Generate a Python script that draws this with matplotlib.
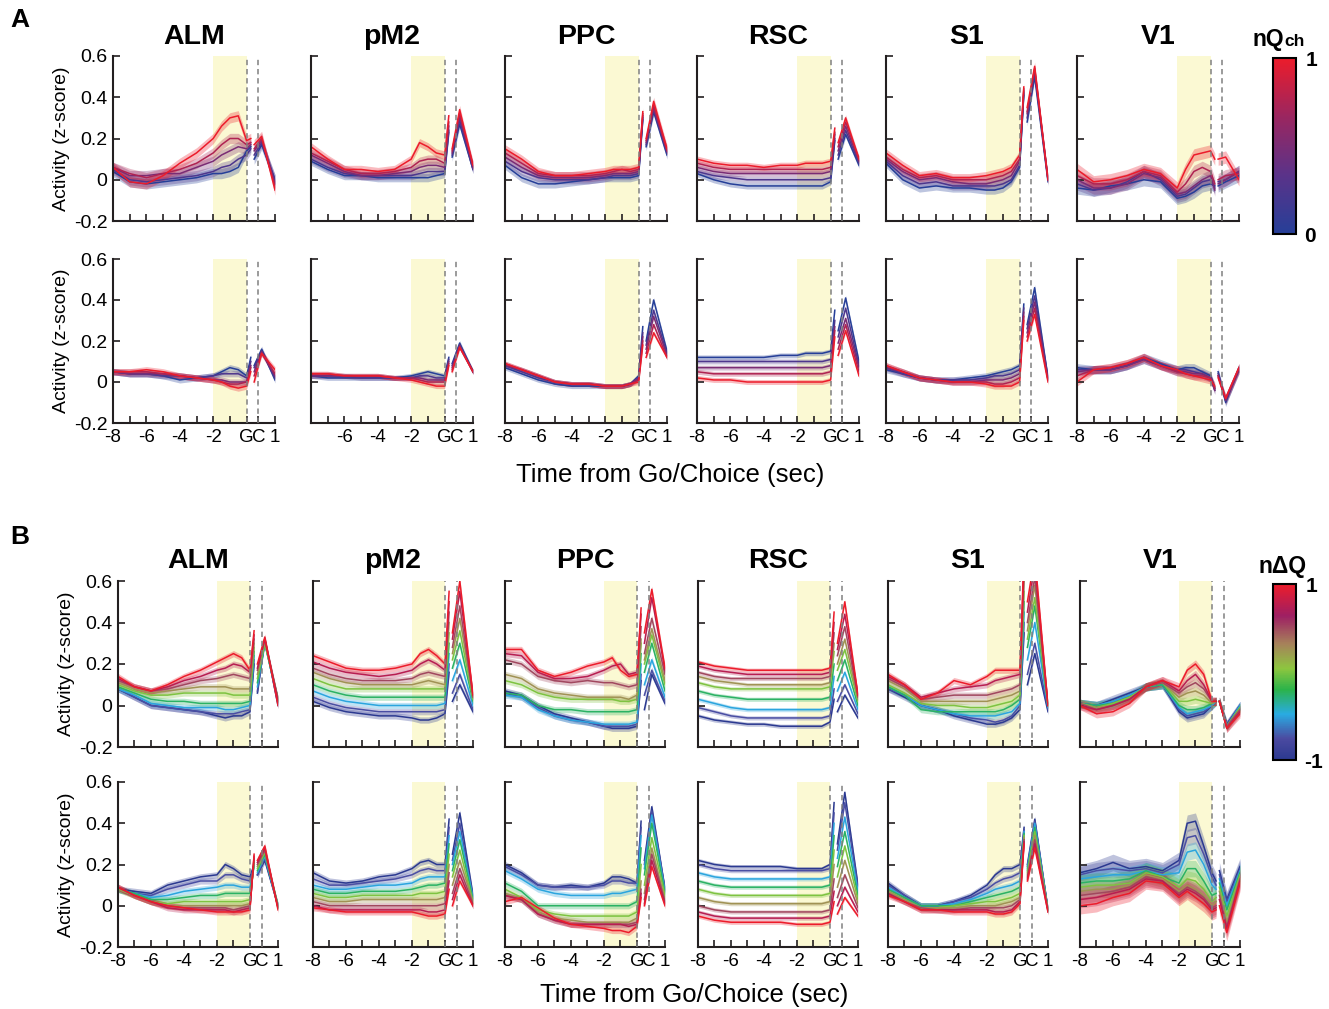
import numpy as np
import matplotlib
matplotlib.use("Agg")
import matplotlib.pyplot as plt
from matplotlib.colors import LinearSegmentedColormap, Normalize
from matplotlib.cm import ScalarMappable

plt.rcParams["font.family"] = ["Liberation Sans", "DejaVu Sans"]

areas = ["ALM", "pM2", "PPC", "RSC", "S1", "V1"]

# pre-Go samples run a little past Go, post-choice samples start just before Choice
choice_t = 0.7
t_pre = [-8, -7, -6, -5, -4, -3, -2, -1.5, -1, -0.5, 0, 0.25]
t_post = [0.45, 0.9, 1.7]
x_ticks = [-8, -7, -6, -5, -4, -3, -2, -1, 0, 0.7, 1.7]
x_ticklabels = ["-8", "", "-6", "", "-4", "", "-2", "", "G", "C", "1"]
y_ticks = [-0.2, 0, 0.2, 0.4, 0.6]
y_ticklabels = ["-0.2", "0", "0.2", "0.4", "0.6"]

# each row: 12 pre-Go values then 3 post-choice values; rows go low -> high bin
# ---- nQch, first row ----
alm_a1 = [
    [0.04, -0.01, -0.02, -0.01, 0.00, 0.01, 0.03, 0.03, 0.04, 0.06, 0.14, 0.16, 0.10, 0.17, 0.00],
    [0.05, 0.00, -0.01, 0.00, 0.01, 0.02, 0.04, 0.06, 0.07, 0.10, 0.12, 0.15, 0.12, 0.18, 0.00],
    [0.06, 0.02, 0.02, 0.03, 0.03, 0.06, 0.09, 0.12, 0.14, 0.16, 0.15, 0.17, 0.14, 0.19, -0.02],
    [0.06, 0.03, 0.01, 0.03, 0.05, 0.08, 0.13, 0.17, 0.20, 0.20, 0.17, 0.18, 0.15, 0.20, -0.03],
    [0.06, -0.01, -0.02, 0.02, 0.08, 0.13, 0.20, 0.26, 0.30, 0.31, 0.19, 0.20, 0.17, 0.21, -0.05],
]
pm2_a1 = [
    [0.09, 0.05, 0.02, 0.02, 0.01, 0.01, 0.01, 0.01, 0.01, 0.02, 0.03, 0.23, 0.11, 0.27, 0.05],
    [0.10, 0.06, 0.03, 0.02, 0.02, 0.02, 0.02, 0.03, 0.04, 0.04, 0.04, 0.24, 0.12, 0.29, 0.05],
    [0.12, 0.08, 0.04, 0.02, 0.02, 0.03, 0.04, 0.06, 0.07, 0.07, 0.06, 0.26, 0.13, 0.31, 0.06],
    [0.13, 0.09, 0.05, 0.03, 0.03, 0.04, 0.06, 0.09, 0.10, 0.10, 0.08, 0.28, 0.14, 0.32, 0.07],
    [0.16, 0.10, 0.05, 0.05, 0.04, 0.05, 0.10, 0.18, 0.16, 0.13, 0.12, 0.31, 0.15, 0.34, 0.07],
]
ppc_a1 = [
    [0.07, 0.01, -0.02, -0.02, -0.01, 0.00, 0.01, 0.01, 0.01, 0.01, 0.02, 0.29, 0.16, 0.33, 0.12],
    [0.09, 0.04, 0.01, 0.00, 0.00, 0.00, 0.01, 0.02, 0.02, 0.02, 0.03, 0.30, 0.17, 0.34, 0.13],
    [0.11, 0.06, 0.02, 0.01, 0.01, 0.01, 0.02, 0.03, 0.03, 0.03, 0.04, 0.31, 0.18, 0.35, 0.14],
    [0.13, 0.08, 0.03, 0.02, 0.02, 0.02, 0.03, 0.04, 0.05, 0.04, 0.05, 0.32, 0.19, 0.36, 0.14],
    [0.15, 0.10, 0.04, 0.02, 0.02, 0.03, 0.04, 0.05, 0.05, 0.05, 0.06, 0.33, 0.20, 0.38, 0.15],
]
rsc_a1 = [
    [0.03, 0.00, -0.02, -0.03, -0.03, -0.03, -0.03, -0.03, -0.03, -0.03, -0.01, 0.19, 0.10, 0.22, 0.07],
    [0.04, 0.02, 0.01, 0.00, 0.00, 0.00, 0.00, 0.00, 0.00, 0.00, 0.01, 0.20, 0.12, 0.24, 0.08],
    [0.06, 0.04, 0.03, 0.03, 0.03, 0.03, 0.03, 0.03, 0.03, 0.03, 0.04, 0.22, 0.14, 0.26, 0.09],
    [0.08, 0.06, 0.05, 0.05, 0.05, 0.05, 0.05, 0.05, 0.05, 0.05, 0.06, 0.23, 0.16, 0.28, 0.10],
    [0.10, 0.08, 0.07, 0.07, 0.06, 0.07, 0.07, 0.08, 0.08, 0.08, 0.09, 0.25, 0.18, 0.30, 0.10],
]
s1_a1 = [
    [0.08, 0.00, -0.04, -0.03, -0.04, -0.04, -0.05, -0.05, -0.04, -0.01, 0.06, 0.41, 0.28, 0.50, -0.01],
    [0.09, 0.02, -0.02, -0.01, -0.03, -0.03, -0.03, -0.03, -0.02, 0.00, 0.07, 0.42, 0.30, 0.52, 0.00],
    [0.10, 0.04, 0.00, 0.01, -0.01, -0.02, -0.02, -0.01, 0.00, 0.02, 0.09, 0.43, 0.32, 0.53, 0.00],
    [0.11, 0.05, 0.01, 0.02, 0.00, 0.00, 0.00, 0.01, 0.02, 0.04, 0.10, 0.44, 0.33, 0.54, 0.00],
    [0.13, 0.07, 0.02, 0.03, 0.01, 0.01, 0.02, 0.03, 0.04, 0.06, 0.12, 0.45, 0.35, 0.55, 0.00],
]
v1_a1 = [
    [-0.04, -0.05, -0.03, -0.02, 0.00, -0.01, -0.09, -0.08, -0.06, -0.03, -0.02, -0.03, -0.03, -0.01, 0.02],
    [-0.02, -0.05, -0.04, -0.01, 0.04, 0.00, -0.08, -0.07, -0.04, -0.01, 0.00, -0.04, -0.01, 0.00, 0.04],
    [0.00, -0.04, -0.04, -0.02, 0.03, 0.01, -0.07, -0.06, -0.03, 0.00, 0.02, -0.05, -0.02, 0.00, 0.04],
    [0.02, -0.02, -0.02, 0.00, 0.04, 0.02, -0.06, -0.02, 0.04, 0.06, 0.04, -0.02, 0.00, 0.02, 0.03],
    [0.05, -0.01, 0.00, 0.02, 0.05, 0.03, -0.04, 0.05, 0.12, 0.13, 0.14, 0.10, 0.10, 0.11, 0.00],
]

# ---- nQch, second row ----
alm_a2 = [
    [0.05, 0.04, 0.04, 0.03, 0.01, 0.02, 0.03, 0.05, 0.07, 0.06, 0.03, 0.12, 0.08, 0.16, 0.01],
    [0.05, 0.04, 0.04, 0.03, 0.03, 0.02, 0.03, 0.04, 0.04, 0.04, 0.02, 0.10, 0.07, 0.15, 0.02],
    [0.05, 0.04, 0.04, 0.04, 0.03, 0.02, 0.01, 0.01, 0.00, 0.00, 0.00, 0.08, 0.05, 0.15, 0.03],
    [0.05, 0.05, 0.05, 0.04, 0.03, 0.02, 0.01, 0.00, -0.01, -0.01, 0.00, 0.07, 0.03, 0.14, 0.04],
    [0.05, 0.05, 0.06, 0.05, 0.03, 0.02, 0.01, 0.00, -0.02, -0.03, -0.02, 0.05, 0.00, 0.14, 0.06],
]
pm2_a2 = [
    [0.03, 0.02, 0.02, 0.02, 0.02, 0.02, 0.03, 0.04, 0.05, 0.04, 0.03, 0.12, 0.09, 0.19, 0.05],
    [0.03, 0.03, 0.03, 0.02, 0.02, 0.02, 0.02, 0.03, 0.03, 0.02, 0.02, 0.11, 0.08, 0.18, 0.05],
    [0.03, 0.03, 0.03, 0.03, 0.03, 0.02, 0.02, 0.02, 0.01, 0.01, 0.01, 0.10, 0.07, 0.18, 0.05],
    [0.04, 0.04, 0.03, 0.03, 0.03, 0.02, 0.02, 0.01, 0.00, 0.00, 0.00, 0.09, 0.06, 0.17, 0.05],
    [0.04, 0.04, 0.03, 0.03, 0.03, 0.02, 0.01, 0.00, -0.01, -0.02, -0.02, 0.08, 0.05, 0.17, 0.05],
]
ppc_a2 = [
    [0.07, 0.04, 0.01, -0.01, -0.02, -0.02, -0.02, -0.02, -0.02, -0.01, 0.03, 0.27, 0.20, 0.40, 0.15],
    [0.08, 0.05, 0.02, 0.00, -0.01, -0.01, -0.02, -0.02, -0.02, -0.01, 0.02, 0.24, 0.18, 0.35, 0.14],
    [0.08, 0.06, 0.03, 0.00, -0.01, -0.01, -0.02, -0.02, -0.02, -0.01, 0.02, 0.22, 0.16, 0.32, 0.13],
    [0.09, 0.06, 0.03, 0.00, -0.01, -0.01, -0.02, -0.02, -0.02, -0.01, 0.01, 0.20, 0.14, 0.28, 0.12],
    [0.09, 0.06, 0.03, 0.00, -0.01, -0.01, -0.02, -0.02, -0.02, -0.01, 0.00, 0.18, 0.12, 0.24, 0.12],
]
rsc_a2 = [
    [0.12, 0.12, 0.12, 0.12, 0.12, 0.13, 0.13, 0.14, 0.14, 0.14, 0.15, 0.35, 0.25, 0.41, 0.10],
    [0.10, 0.10, 0.10, 0.10, 0.10, 0.10, 0.10, 0.10, 0.10, 0.10, 0.11, 0.30, 0.22, 0.36, 0.08],
    [0.07, 0.07, 0.07, 0.07, 0.07, 0.07, 0.07, 0.07, 0.07, 0.07, 0.08, 0.27, 0.19, 0.31, 0.07],
    [0.05, 0.04, 0.04, 0.04, 0.04, 0.04, 0.04, 0.04, 0.04, 0.04, 0.05, 0.25, 0.16, 0.28, 0.05],
    [0.02, 0.01, 0.01, 0.00, 0.00, 0.00, 0.00, 0.00, 0.00, 0.00, 0.01, 0.22, 0.13, 0.25, 0.03],
]
s1_a2 = [
    [0.06, 0.04, 0.02, 0.01, 0.01, 0.02, 0.03, 0.04, 0.05, 0.06, 0.08, 0.38, 0.28, 0.46, 0.02],
    [0.07, 0.04, 0.02, 0.01, 0.01, 0.01, 0.02, 0.03, 0.03, 0.04, 0.06, 0.36, 0.26, 0.42, 0.02],
    [0.07, 0.05, 0.02, 0.01, 0.00, 0.00, 0.01, 0.01, 0.01, 0.02, 0.04, 0.34, 0.24, 0.39, 0.01],
    [0.08, 0.05, 0.02, 0.01, 0.00, 0.00, 0.00, -0.01, -0.01, 0.00, 0.02, 0.32, 0.22, 0.36, 0.01],
    [0.08, 0.05, 0.02, 0.01, 0.00, 0.00, -0.01, -0.02, -0.02, -0.02, 0.00, 0.30, 0.20, 0.33, 0.00],
]
v1_a2 = [
    [0.07, 0.06, 0.06, 0.08, 0.12, 0.09, 0.06, 0.07, 0.07, 0.05, 0.03, -0.03, 0.05, -0.10, 0.07],
    [0.06, 0.06, 0.06, 0.08, 0.11, 0.08, 0.06, 0.06, 0.05, 0.04, 0.02, -0.04, 0.04, -0.09, 0.06],
    [0.05, 0.06, 0.06, 0.08, 0.11, 0.08, 0.05, 0.05, 0.04, 0.04, 0.02, -0.04, 0.03, -0.09, 0.06],
    [0.03, 0.06, 0.07, 0.09, 0.12, 0.08, 0.05, 0.04, 0.03, 0.03, 0.02, -0.03, 0.03, -0.08, 0.07],
    [0.00, 0.06, 0.07, 0.09, 0.12, 0.08, 0.06, 0.04, 0.03, 0.02, 0.01, -0.02, 0.02, -0.08, 0.07],
]

# ---- nDeltaQ, first row ----
alm_b1 = [
    [0.08, 0.04, 0.00, -0.01, -0.02, -0.03, -0.05, -0.06, -0.05, -0.05, -0.03, 0.20, 0.06, 0.32, 0.00],
    [0.08, 0.04, 0.00, -0.01, -0.02, -0.03, -0.04, -0.04, -0.04, -0.03, -0.02, 0.22, 0.07, 0.31, 0.01],
    [0.08, 0.05, 0.01, 0.00, -0.01, -0.01, -0.01, -0.02, -0.02, -0.01, 0.00, 0.24, 0.09, 0.30, 0.02],
    [0.09, 0.06, 0.03, 0.02, 0.02, 0.01, 0.01, 0.01, 0.01, 0.01, 0.02, 0.26, 0.11, 0.30, 0.03],
    [0.10, 0.07, 0.05, 0.05, 0.06, 0.06, 0.06, 0.06, 0.05, 0.05, 0.05, 0.28, 0.13, 0.30, 0.03],
    [0.11, 0.08, 0.06, 0.07, 0.08, 0.09, 0.09, 0.09, 0.08, 0.08, 0.08, 0.30, 0.15, 0.31, 0.03],
    [0.12, 0.09, 0.07, 0.08, 0.10, 0.12, 0.13, 0.14, 0.15, 0.14, 0.13, 0.32, 0.17, 0.32, 0.03],
    [0.13, 0.09, 0.07, 0.09, 0.12, 0.14, 0.17, 0.18, 0.20, 0.19, 0.16, 0.34, 0.18, 0.32, 0.02],
    [0.14, 0.09, 0.07, 0.10, 0.14, 0.17, 0.21, 0.23, 0.25, 0.23, 0.17, 0.36, 0.20, 0.33, 0.00],
]
pm2_b1 = [
    [0.02, -0.01, -0.03, -0.04, -0.05, -0.05, -0.06, -0.07, -0.07, -0.06, -0.04, 0.16, 0.02, 0.10, -0.03],
    [0.04, 0.01, -0.01, -0.02, -0.03, -0.03, -0.03, -0.03, -0.03, -0.03, -0.02, 0.20, 0.06, 0.15, -0.02],
    [0.07, 0.04, 0.02, 0.01, 0.00, 0.00, 0.00, 0.00, 0.00, 0.00, 0.01, 0.25, 0.12, 0.22, 0.00],
    [0.10, 0.07, 0.05, 0.04, 0.04, 0.04, 0.04, 0.04, 0.04, 0.04, 0.04, 0.30, 0.18, 0.30, 0.02],
    [0.13, 0.10, 0.08, 0.08, 0.08, 0.08, 0.08, 0.08, 0.08, 0.08, 0.08, 0.35, 0.22, 0.36, 0.03],
    [0.16, 0.13, 0.11, 0.10, 0.10, 0.10, 0.10, 0.11, 0.12, 0.11, 0.10, 0.40, 0.25, 0.42, 0.04],
    [0.18, 0.15, 0.13, 0.12, 0.12, 0.12, 0.13, 0.15, 0.16, 0.15, 0.14, 0.45, 0.28, 0.48, 0.04],
    [0.21, 0.18, 0.16, 0.15, 0.14, 0.15, 0.17, 0.20, 0.22, 0.20, 0.17, 0.50, 0.32, 0.55, 0.05],
    [0.24, 0.21, 0.18, 0.17, 0.17, 0.18, 0.20, 0.25, 0.27, 0.24, 0.20, 0.55, 0.35, 0.60, 0.05],
]
ppc_b1 = [
    [0.07, 0.05, 0.00, -0.04, -0.06, -0.08, -0.10, -0.11, -0.11, -0.11, -0.10, 0.12, -0.02, 0.15, 0.01],
    [0.06, 0.04, -0.01, -0.05, -0.07, -0.08, -0.10, -0.10, -0.10, -0.10, -0.09, 0.15, 0.05, 0.17, 0.02],
    [0.05, 0.04, -0.02, -0.05, -0.07, -0.08, -0.09, -0.09, -0.09, -0.09, -0.08, 0.20, 0.10, 0.22, 0.04],
    [0.06, 0.05, 0.00, -0.02, -0.02, -0.03, -0.03, -0.03, -0.03, -0.03, -0.02, 0.25, 0.16, 0.30, 0.07],
    [0.12, 0.10, 0.06, 0.04, 0.03, 0.03, 0.03, 0.03, 0.02, 0.02, 0.03, 0.30, 0.20, 0.34, 0.10],
    [0.15, 0.13, 0.08, 0.06, 0.05, 0.04, 0.04, 0.04, 0.04, 0.03, 0.05, 0.32, 0.22, 0.37, 0.12],
    [0.22, 0.20, 0.14, 0.12, 0.11, 0.12, 0.11, 0.11, 0.10, 0.09, 0.10, 0.38, 0.25, 0.42, 0.15],
    [0.25, 0.24, 0.16, 0.13, 0.13, 0.14, 0.17, 0.19, 0.20, 0.15, 0.16, 0.44, 0.30, 0.52, 0.17],
    [0.27, 0.27, 0.17, 0.14, 0.16, 0.19, 0.21, 0.23, 0.17, 0.14, 0.15, 0.47, 0.35, 0.56, 0.18],
]
rsc_b1 = [
    [-0.05, -0.07, -0.08, -0.09, -0.09, -0.10, -0.10, -0.10, -0.10, -0.10, -0.08, 0.03, -0.03, 0.05, -0.06],
    [-0.01, -0.03, -0.05, -0.06, -0.06, -0.06, -0.06, -0.06, -0.06, -0.06, -0.05, 0.08, 0.02, 0.10, -0.04],
    [0.03, 0.01, -0.01, -0.02, -0.02, -0.02, -0.02, -0.02, -0.02, -0.02, -0.01, 0.14, 0.07, 0.16, -0.02],
    [0.07, 0.05, 0.04, 0.03, 0.03, 0.03, 0.03, 0.03, 0.03, 0.03, 0.04, 0.20, 0.12, 0.22, 0.00],
    [0.11, 0.09, 0.08, 0.08, 0.08, 0.08, 0.08, 0.08, 0.08, 0.08, 0.09, 0.26, 0.17, 0.27, 0.02],
    [0.14, 0.12, 0.11, 0.10, 0.10, 0.10, 0.10, 0.10, 0.10, 0.10, 0.11, 0.30, 0.20, 0.32, 0.03],
    [0.16, 0.14, 0.13, 0.13, 0.13, 0.13, 0.13, 0.13, 0.13, 0.13, 0.14, 0.35, 0.24, 0.38, 0.04],
    [0.19, 0.17, 0.16, 0.15, 0.15, 0.15, 0.15, 0.15, 0.15, 0.15, 0.16, 0.40, 0.27, 0.44, 0.05],
    [0.21, 0.19, 0.18, 0.17, 0.17, 0.17, 0.17, 0.17, 0.17, 0.17, 0.18, 0.45, 0.30, 0.50, 0.05],
]
s1_b1 = [
    [0.08, 0.04, 0.00, -0.02, -0.05, -0.07, -0.09, -0.09, -0.08, -0.06, -0.02, 0.35, 0.10, 0.25, -0.03],
    [0.08, 0.05, 0.00, -0.02, -0.04, -0.06, -0.07, -0.08, -0.07, -0.05, 0.00, 0.40, 0.15, 0.30, -0.02],
    [0.09, 0.05, 0.00, -0.02, -0.04, -0.05, -0.05, -0.05, -0.04, -0.03, 0.01, 0.45, 0.22, 0.40, -0.01],
    [0.09, 0.05, -0.02, -0.03, -0.03, -0.03, -0.03, -0.03, -0.02, 0.00, 0.03, 0.50, 0.28, 0.48, 0.00],
    [0.10, 0.06, 0.01, 0.00, 0.00, -0.01, -0.01, 0.00, 0.01, 0.02, 0.05, 0.55, 0.32, 0.52, 0.00],
    [0.12, 0.08, 0.02, 0.02, 0.02, 0.02, 0.02, 0.03, 0.04, 0.05, 0.07, 0.60, 0.36, 0.58, 0.00],
    [0.13, 0.09, 0.03, 0.04, 0.05, 0.05, 0.05, 0.06, 0.07, 0.08, 0.10, 0.65, 0.40, 0.62, 0.00],
    [0.14, 0.10, 0.04, 0.06, 0.08, 0.09, 0.10, 0.12, 0.13, 0.14, 0.15, 0.70, 0.45, 0.68, 0.00],
    [0.15, 0.10, 0.03, 0.06, 0.12, 0.10, 0.14, 0.17, 0.17, 0.17, 0.17, 0.75, 0.50, 0.72, 0.00],
]
v1_b1 = [
    [0.01, 0.00, 0.03, 0.06, 0.09, 0.10, -0.03, -0.06, -0.05, -0.04, 0.00, 0.02, 0.02, -0.09, 0.00],
    [0.01, 0.00, 0.02, 0.05, 0.09, 0.10, -0.02, -0.05, -0.04, -0.03, 0.00, 0.02, 0.02, -0.09, 0.00],
    [0.01, 0.00, 0.02, 0.05, 0.09, 0.10, -0.01, -0.04, -0.03, -0.02, 0.00, 0.02, 0.02, -0.10, 0.00],
    [0.01, 0.00, 0.01, 0.04, 0.09, 0.10, 0.00, -0.02, -0.02, -0.01, 0.01, 0.02, 0.02, -0.10, -0.01],
    [0.01, -0.01, 0.01, 0.04, 0.09, 0.11, 0.02, 0.02, 0.03, 0.02, 0.01, 0.02, 0.02, -0.10, -0.01],
    [0.01, -0.01, 0.00, 0.03, 0.09, 0.11, 0.04, 0.06, 0.07, 0.05, 0.01, 0.02, 0.02, -0.10, -0.02],
    [0.01, -0.02, 0.00, 0.03, 0.09, 0.11, 0.06, 0.09, 0.11, 0.08, 0.02, 0.02, 0.02, -0.10, -0.02],
    [0.00, -0.02, 0.00, 0.03, 0.09, 0.12, 0.07, 0.12, 0.15, 0.10, 0.02, 0.02, 0.02, -0.11, -0.03],
    [0.00, -0.04, -0.03, 0.01, 0.09, 0.12, 0.09, 0.17, 0.20, 0.15, 0.02, 0.02, 0.02, -0.11, -0.04],
]

# ---- nDeltaQ, second row ----
alm_b2 = [
    [0.08, 0.07, 0.06, 0.10, 0.12, 0.14, 0.15, 0.20, 0.18, 0.15, 0.14, 0.20, 0.15, 0.22, 0.00],
    [0.08, 0.06, 0.05, 0.08, 0.10, 0.12, 0.12, 0.15, 0.15, 0.13, 0.12, 0.20, 0.15, 0.23, 0.00],
    [0.08, 0.06, 0.04, 0.05, 0.07, 0.08, 0.09, 0.10, 0.10, 0.09, 0.09, 0.20, 0.16, 0.24, 0.00],
    [0.08, 0.06, 0.03, 0.03, 0.04, 0.05, 0.05, 0.06, 0.06, 0.06, 0.06, 0.20, 0.17, 0.25, 0.00],
    [0.08, 0.05, 0.02, 0.01, 0.02, 0.02, 0.02, 0.02, 0.02, 0.02, 0.03, 0.21, 0.18, 0.26, 0.00],
    [0.08, 0.05, 0.02, 0.00, 0.00, 0.00, 0.00, 0.00, 0.00, 0.00, 0.01, 0.22, 0.19, 0.27, -0.01],
    [0.09, 0.05, 0.02, 0.00, -0.01, -0.01, -0.01, -0.01, -0.02, -0.01, 0.00, 0.23, 0.20, 0.27, -0.01],
    [0.09, 0.05, 0.02, -0.01, -0.02, -0.02, -0.02, -0.02, -0.03, -0.02, -0.01, 0.24, 0.21, 0.28, -0.01],
    [0.09, 0.05, 0.02, 0.00, -0.01, -0.02, -0.03, -0.03, -0.03, -0.03, -0.02, 0.25, 0.22, 0.29, -0.02],
]
pm2_b2 = [
    [0.16, 0.12, 0.11, 0.12, 0.14, 0.15, 0.18, 0.21, 0.22, 0.20, 0.20, 0.42, 0.25, 0.45, 0.05],
    [0.13, 0.10, 0.10, 0.11, 0.12, 0.13, 0.15, 0.17, 0.18, 0.17, 0.17, 0.38, 0.22, 0.40, 0.04],
    [0.10, 0.08, 0.08, 0.09, 0.10, 0.10, 0.11, 0.13, 0.14, 0.14, 0.14, 0.34, 0.20, 0.36, 0.04],
    [0.08, 0.06, 0.06, 0.07, 0.07, 0.07, 0.08, 0.09, 0.10, 0.10, 0.11, 0.30, 0.17, 0.32, 0.03],
    [0.06, 0.04, 0.04, 0.05, 0.05, 0.05, 0.05, 0.06, 0.06, 0.06, 0.07, 0.25, 0.14, 0.27, 0.02],
    [0.04, 0.02, 0.02, 0.03, 0.03, 0.03, 0.03, 0.03, 0.03, 0.03, 0.04, 0.20, 0.10, 0.22, 0.02],
    [0.02, 0.00, 0.00, 0.00, 0.00, 0.00, 0.00, 0.00, 0.00, 0.00, 0.01, 0.16, 0.06, 0.18, 0.01],
    [0.00, -0.02, -0.02, -0.02, -0.02, -0.02, -0.02, -0.02, -0.03, -0.03, -0.02, 0.12, 0.03, 0.15, 0.00],
    [-0.01, -0.02, -0.03, -0.03, -0.03, -0.03, -0.03, -0.04, -0.05, -0.05, -0.04, 0.08, 0.00, 0.12, 0.00],
]
ppc_b2 = [
    [0.20, 0.16, 0.10, 0.09, 0.10, 0.09, 0.11, 0.14, 0.14, 0.13, 0.11, 0.41, 0.22, 0.48, 0.08],
    [0.19, 0.15, 0.10, 0.09, 0.09, 0.09, 0.10, 0.12, 0.12, 0.11, 0.11, 0.38, 0.20, 0.46, 0.08],
    [0.17, 0.13, 0.08, 0.06, 0.05, 0.05, 0.05, 0.06, 0.06, 0.07, 0.08, 0.34, 0.18, 0.44, 0.07],
    [0.11, 0.07, 0.00, 0.00, 0.00, 0.00, 0.00, 0.00, 0.00, 0.00, 0.02, 0.28, 0.15, 0.40, 0.06],
    [0.08, 0.04, -0.02, -0.04, -0.05, -0.05, -0.05, -0.05, -0.05, -0.05, -0.03, 0.20, 0.10, 0.33, 0.05],
    [0.06, 0.03, -0.03, -0.06, -0.07, -0.08, -0.08, -0.08, -0.08, -0.08, -0.06, 0.12, 0.06, 0.28, 0.03],
    [0.05, 0.03, -0.04, -0.07, -0.09, -0.09, -0.09, -0.09, -0.09, -0.09, -0.08, 0.08, 0.03, 0.25, 0.02],
    [0.05, 0.03, -0.04, -0.07, -0.09, -0.09, -0.09, -0.09, -0.09, -0.10, -0.09, 0.06, 0.01, 0.22, 0.01],
    [0.02, 0.04, -0.01, -0.06, -0.09, -0.10, -0.11, -0.12, -0.12, -0.13, -0.10, 0.04, 0.00, 0.19, 0.00],
]
rsc_b2 = [
    [0.22, 0.20, 0.19, 0.19, 0.19, 0.19, 0.18, 0.18, 0.18, 0.18, 0.20, 0.50, 0.30, 0.55, 0.10],
    [0.20, 0.18, 0.17, 0.17, 0.17, 0.17, 0.17, 0.17, 0.17, 0.17, 0.18, 0.45, 0.27, 0.50, 0.09],
    [0.16, 0.14, 0.13, 0.13, 0.13, 0.13, 0.13, 0.13, 0.13, 0.13, 0.14, 0.40, 0.23, 0.43, 0.07],
    [0.12, 0.10, 0.09, 0.09, 0.09, 0.09, 0.09, 0.09, 0.09, 0.09, 0.10, 0.34, 0.19, 0.36, 0.05],
    [0.08, 0.06, 0.05, 0.05, 0.05, 0.05, 0.05, 0.05, 0.05, 0.05, 0.06, 0.27, 0.14, 0.29, 0.03],
    [0.04, 0.02, 0.01, 0.01, 0.01, 0.01, 0.01, 0.01, 0.01, 0.01, 0.02, 0.20, 0.09, 0.22, 0.01],
    [0.00, -0.02, -0.03, -0.03, -0.03, -0.03, -0.03, -0.03, -0.03, -0.03, -0.02, 0.13, 0.04, 0.15, -0.01],
    [-0.03, -0.05, -0.06, -0.06, -0.06, -0.06, -0.06, -0.06, -0.06, -0.06, -0.05, 0.07, 0.00, 0.09, -0.03],
    [-0.05, -0.07, -0.08, -0.08, -0.08, -0.08, -0.09, -0.09, -0.09, -0.09, -0.08, 0.02, -0.04, 0.04, -0.05],
]
s1_b2 = [
    [0.11, 0.05, 0.00, 0.00, 0.02, 0.05, 0.10, 0.15, 0.18, 0.18, 0.20, 0.38, 0.20, 0.42, -0.02],
    [0.10, 0.05, 0.00, 0.00, 0.02, 0.04, 0.08, 0.11, 0.13, 0.14, 0.16, 0.37, 0.19, 0.41, -0.02],
    [0.09, 0.04, 0.00, 0.00, 0.01, 0.03, 0.06, 0.08, 0.09, 0.10, 0.12, 0.36, 0.18, 0.40, -0.02],
    [0.08, 0.04, 0.00, 0.00, 0.00, 0.02, 0.04, 0.05, 0.06, 0.07, 0.09, 0.35, 0.17, 0.38, -0.02],
    [0.07, 0.03, -0.01, -0.01, 0.00, 0.01, 0.02, 0.02, 0.03, 0.04, 0.06, 0.34, 0.16, 0.36, -0.02],
    [0.07, 0.03, -0.01, -0.01, -0.01, 0.00, 0.00, 0.00, 0.01, 0.02, 0.04, 0.33, 0.15, 0.34, -0.02],
    [0.06, 0.02, -0.01, -0.02, -0.02, -0.01, -0.01, -0.01, -0.01, 0.00, 0.03, 0.32, 0.14, 0.32, -0.02],
    [0.06, 0.02, -0.02, -0.02, -0.02, -0.02, -0.02, -0.03, -0.03, -0.02, 0.02, 0.31, 0.13, 0.30, -0.03],
    [0.05, 0.02, -0.02, -0.02, -0.03, -0.03, -0.03, -0.04, -0.04, -0.03, 0.01, 0.30, 0.12, 0.28, -0.03],
]
v1_b2 = [
    [0.16, 0.18, 0.21, 0.18, 0.19, 0.17, 0.22, 0.40, 0.41, 0.29, 0.16, 0.12, 0.17, 0.03, 0.19],
    [0.15, 0.17, 0.18, 0.17, 0.18, 0.16, 0.20, 0.33, 0.34, 0.25, 0.14, 0.10, 0.15, 0.02, 0.18],
    [0.13, 0.14, 0.15, 0.15, 0.17, 0.15, 0.16, 0.26, 0.27, 0.20, 0.10, 0.08, 0.13, 0.00, 0.17],
    [0.11, 0.12, 0.12, 0.13, 0.17, 0.14, 0.11, 0.18, 0.18, 0.12, 0.05, 0.06, 0.11, -0.02, 0.16],
    [0.09, 0.10, 0.10, 0.11, 0.16, 0.14, 0.09, 0.13, 0.12, 0.08, 0.02, 0.04, 0.09, -0.05, 0.15],
    [0.07, 0.08, 0.08, 0.10, 0.15, 0.13, 0.07, 0.10, 0.08, 0.05, 0.00, 0.02, 0.07, -0.08, 0.14],
    [0.05, 0.06, 0.07, 0.09, 0.14, 0.12, 0.06, 0.09, 0.07, 0.04, -0.01, 0.00, 0.05, -0.10, 0.13],
    [0.03, 0.04, 0.06, 0.08, 0.13, 0.12, 0.05, 0.08, 0.06, 0.03, -0.02, -0.01, 0.03, -0.11, 0.12],
    [0.00, 0.01, 0.04, 0.06, 0.12, 0.11, 0.04, 0.07, 0.04, 0.01, -0.03, -0.02, 0.00, -0.13, 0.11],
]

# standard error half-width per area
sem_a1 = [0.025, 0.02, 0.02, 0.015, 0.02, 0.03]
sem_a2 = [0.015, 0.012, 0.012, 0.012, 0.015, 0.02]
sem_b1 = [0.015, 0.015, 0.015, 0.01, 0.015, 0.02]
sem_b2 = [0.015, 0.015, 0.015, 0.01, 0.015, 0.04]

cmap_qch = LinearSegmentedColormap.from_list(
    "qch", ["#263f98", "#5a3389", "#9a2660", "#ec1c2b"])
cmap_dq = LinearSegmentedColormap.from_list(
    "dq", [(0.0, "#2b3990"), (0.12, "#4b4aa0"), (0.26, "#29abe2"),
           (0.40, "#2bb34a"), (0.52, "#8dc63f"), (0.66, "#a6825a"),
           (0.82, "#9e1f63"), (1.0, "#ec1c2b")])

W, H = 1329, 1009
fig = plt.figure(figsize=(W / 100, H / 100), dpi=100)


def add_ax(left, top, width, bottom):
    return fig.add_axes([left / W, 1 - bottom / H, width / W, (bottom - top) / H])


def draw_panel(ax, lines, sem, cmap, bottom_labels, left_labels, skip_first=False):
    ax.axvspan(-2, 0, color="#fbf9d3", lw=0, zorder=0)
    n = len(lines)
    for k, row in enumerate(lines):
        c = cmap(k / (n - 1))
        pre = np.array(row[:12])
        post = np.array(row[12:])
        for tt, yy in ((t_pre, pre), (t_post, post)):
            ax.fill_between(tt, yy - sem, yy + sem, color=c, alpha=0.3, lw=0, zorder=1)
            ax.plot(tt, yy, color=c, lw=1.1, zorder=2)
    for xv in (0, choice_t):
        ax.axvline(xv, color="0.5", ls=(0, (3.5, 2.5)), lw=1.1, zorder=3)
    ax.set_xlim(-8, 1.7)
    ax.set_ylim(-0.2, 0.6)
    ax.set_xticks(x_ticks)
    ax.set_yticks(y_ticks)
    if bottom_labels:
        labels = list(x_ticklabels)
        if skip_first:
            labels[0] = ""
        ax.set_xticklabels(labels)
    else:
        ax.set_xticklabels([])
    if left_labels:
        ax.set_yticklabels(y_ticklabels)
        ax.set_ylabel("Activity (z-score)", fontsize=14, labelpad=3)
    else:
        ax.set_yticklabels([])
    ax.tick_params(direction="in", length=5, width=1.2, color="#231f20", pad=4)
    ax.tick_params(axis="x", labelsize=13.5)
    ax.tick_params(axis="y", labelsize=14)
    for s in ("top", "right"):
        ax.spines[s].set_visible(False)
    for s in ("left", "bottom"):
        ax.spines[s].set_linewidth(1.5)
        ax.spines[s].set_color("#231f20")


cols_a = [113, 311, 505, 697, 886, 1077]
cols_b = [118, 313, 505, 698, 888, 1080]
row_spans = [(56, 221), (259, 423), (581, 747), (782, 947)]

panel_rows = [
    ([alm_a1, pm2_a1, ppc_a1, rsc_a1, s1_a1, v1_a1], sem_a1, cmap_qch, cols_a, 162),
    ([alm_a2, pm2_a2, ppc_a2, rsc_a2, s1_a2, v1_a2], sem_a2, cmap_qch, cols_a, 162),
    ([alm_b1, pm2_b1, ppc_b1, rsc_b1, s1_b1, v1_b1], sem_b1, cmap_dq, cols_b, 160),
    ([alm_b2, pm2_b2, ppc_b2, rsc_b2, s1_b2, v1_b2], sem_b2, cmap_dq, cols_b, 160),
]

for r, (panels, sems, cmap, cols, width) in enumerate(panel_rows):
    top, bottom = row_spans[r]
    for c, lines in enumerate(panels):
        ax = add_ax(cols[c], top, width, bottom)
        draw_panel(ax, lines, sems[c], cmap,
                   bottom_labels=(r % 2 == 1), left_labels=(c == 0),
                   skip_first=(r == 1 and c == 1))
        if r % 2 == 0:
            ax.set_title(areas[c], fontsize=20.5, fontweight="bold", pad=9)

fig.text(670 / W, 1 - 475 / H, "Time from Go/Choice (sec)", ha="center", va="center", fontsize=18.5)
fig.text(694 / W, 1 - 995 / H, "Time from Go/Choice (sec)", ha="center", va="center", fontsize=18.5)
fig.text(10 / W, 1 - 20 / H, "A", ha="left", va="center", fontsize=19, fontweight="bold")
fig.text(10 / W, 1 - 537 / H, "B", ha="left", va="center", fontsize=19, fontweight="bold")

# colour bars
for cmap, vmin, (top, bottom), lo_lab, hi_lab in (
        (cmap_qch, 0, (58, 234), "0", "1"),
        (cmap_dq, -1, (584, 760), "-1", "1")):
    cax = add_ax(1273, top, 23, bottom)
    cb = fig.colorbar(ScalarMappable(norm=Normalize(vmin, 1), cmap=cmap), cax=cax)
    cb.set_ticks([])
    cb.outline.set_linewidth(1.5)
    fig.text(1306 / W, 1 - (top + 2) / H, hi_lab, ha="left", va="center", fontsize=15, fontweight="bold")
    fig.text(1304 / W, 1 - (bottom + 2) / H, lo_lab, ha="left", va="center", fontsize=15, fontweight="bold")

fig.text(1253 / W, 1 - 46 / H, "nQ", ha="left", va="baseline", fontsize=16.5, fontweight="bold")
fig.text(1284 / W, 1 - 46 / H, "ch", ha="left", va="baseline", fontsize=12.5, fontweight="bold")
fig.text(1283 / W, 1 - 566 / H, "n\u0394Q", ha="center", va="center", fontsize=16.5, fontweight="bold")

fig.savefig("out.png", dpi=100)
